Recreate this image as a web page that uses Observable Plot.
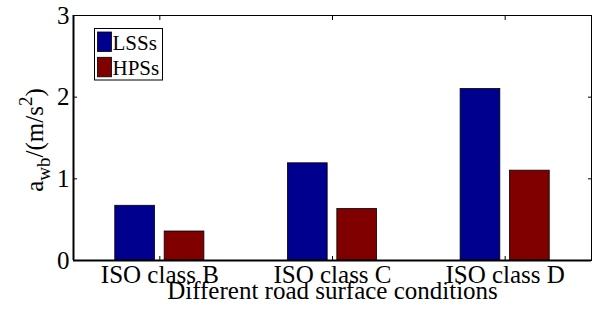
<!DOCTYPE html>
<html>
<head>
<meta charset="utf-8">
<script src="https://cdn.jsdelivr.net/npm/d3@7"></script>
<script src="https://cdn.jsdelivr.net/npm/@observablehq/plot@0.6"></script>
</head>
<body style="margin:0;background:white;font-family:'Liberation Serif',serif">
<div id="c"></div>
<script>
const categories = ["ISO class B", "ISO class C", "ISO class D"];
const series = ["LSSs", "HPSs"];
const lssValues = [0.67, 1.19, 2.10];
const hpsValues = [0.355, 0.63, 1.10];
const yTicks = [0, 1, 2, 3];
const seriesColors = ["#00008f", "#800000"];
const xLabel = "Different road surface conditions";

const barWidth = 0.23;
const barOffset = 0.143;

const rows = [];
categories.forEach((c, i) => {
  rows.push({cat: c, idx: i + 1, series: series[0], value: lssValues[i], off: -barOffset});
  rows.push({cat: c, idx: i + 1, series: series[1], value: hpsValues[i], off: barOffset});
});

const svg = Plot.plot({
  width: 592,
  height: 311,
  marginLeft: 73,
  marginRight: 1,
  marginTop: 15,
  marginBottom: 51,
  style: {fontFamily: "Liberation Serif", fontSize: "25px", color: "black", background: "white"},
  x: {domain: [0.5, 3.5]},
  y: {domain: [0, 3]},
  color: {domain: series, range: seriesColors},
  marks: [
    Plot.rect(rows, {
      x1: d => d.idx + d.off - barWidth / 2,
      x2: d => d.idx + d.off + barWidth / 2,
      y1: 0,
      y2: "value",
      fill: "series",
      stroke: "black",
      strokeWidth: 0.8
    }),
    Plot.axisX({ticks: [1, 2, 3], tickSize: 4, text: null, label: null, dy: -4, stroke: "black"}),
    Plot.axisX({anchor: "top", ticks: [1, 2, 3], tickSize: 4, text: null, label: null, dy: 4, stroke: "black"}),
    Plot.axisY({ticks: [1, 2], tickSize: 4, text: null, label: null, dx: 4, stroke: "black"}),
    Plot.axisY({anchor: "right", ticks: [1, 2], tickSize: 4, text: null, label: null, dx: -4, stroke: "black"}),
    Plot.axisX({ticks: [1, 2, 3], tickSize: 0, tickPadding: 5, tickFormat: i => categories[i - 1], label: null, fontSize: 25}),
    Plot.axisY({ticks: yTicks, tickSize: 0, tickPadding: 4, tickFormat: d => String(d), label: null, fontSize: 25}),
    Plot.frame({stroke: "black", strokeWidth: 1}),
    Plot.ruleY([0], {stroke: "black", strokeWidth: 2}),
    Plot.ruleX([0.5], {stroke: "black", strokeWidth: 2}),
    Plot.text([xLabel], {frameAnchor: "bottom", dy: 38, text: d => d, fontSize: 25, fill: "black"})
  ]
});

const s = d3.select(svg);
s.attr("font-family", "Liberation Serif");

const yl = s.append("text")
  .attr("transform", "translate(43,140) rotate(-90)")
  .attr("text-anchor", "middle")
  .attr("font-size", 25)
  .attr("fill", "black");
yl.append("tspan").text("a");
yl.append("tspan").attr("font-size", 19).attr("dy", 7).text("wb");
yl.append("tspan").attr("dy", -7).text("/(m/s");
yl.append("tspan").attr("font-size", 19).attr("dy", -11).text("2");
yl.append("tspan").attr("dy", 11).text(")");

const lg = s.append("g").attr("font-size", 21).attr("text-anchor", "start");
lg.append("rect").attr("x", 94.5).attr("y", 28.5).attr("width", 68).attr("height", 51.5)
  .attr("fill", "white").attr("stroke", "black").attr("stroke-width", 1);
series.forEach((name, k) => {
  lg.append("rect").attr("x", 97.5).attr("y", 32 + k * 25.3).attr("width", 14).attr("height", 19.5)
    .attr("fill", seriesColors[k]).attr("stroke", "black").attr("stroke-width", 0.8);
  lg.append("text").attr("x", 112.5).attr("y", 50 + k * 25.3).attr("fill", "black").text(name);
});

s.selectAll("text, tspan").attr("font-family", "Liberation Serif").style("font-family", "Liberation Serif");

document.getElementById("c").appendChild(svg);
</script>
</body>
</html>
